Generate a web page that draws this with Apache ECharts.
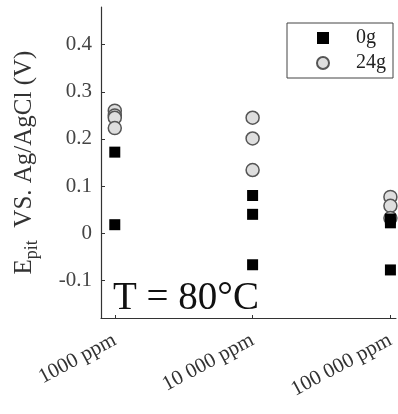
<!DOCTYPE html>
<html>
<head>
<meta charset="utf-8">
<script src="https://cdn.jsdelivr.net/npm/echarts@6/dist/echarts.min.js"></script>
<style>
  html, body { margin: 0; padding: 0; background: #fff; }
  #chart { width: 398px; height: 414px; }
</style>
</head>
<body>
<div id="chart"></div>
<script>
// concentration groups, placed at x = 1, 2, 3
const categories = ['1000 ppm', '10 000 ppm', '100 000 ppm'];
const yTicks = [-0.1, 0, 0.1, 0.2, 0.3, 0.4];

// E_pit values (V), one array per group
const g0_1000 = [0.172, 0.018];
const g0_10000 = [0.080, 0.040, -0.067];
const g0_100000 = [0.030, 0.022, -0.078];

const g24_1000 = [0.260, 0.250, 0.245, 0.223];
const g24_10000 = [0.245, 0.201, 0.134];
const g24_100000 = [0.077, 0.058, 0.032];

const toPoints = (groups) => {
  const out = [];
  groups.forEach((vals, i) => vals.forEach(v => out.push([i + 1, v])));
  return out;
};

const serif = 'Liberation Serif';
const axisColor = '#333';

const chart = echarts.init(document.getElementById('chart'), null, { renderer: 'canvas' });

chart.setOption({
  animation: false,
  grid: { left: 101, right: 0, top: 7, bottom: 96, containLabel: false },
  legend: {
    orient: 'vertical',
    left: 287,
    top: 23,
    padding: [5, 7, 5, 29],
    itemGap: 5,
    itemWidth: 12,
    itemHeight: 12,
    borderColor: '#444',
    borderWidth: 1,
    textStyle: { fontFamily: serif, fontSize: 20, color: '#222', padding: [0, 0, 0, 22] },
    data: [
      { name: '0g', icon: 'rect' },
      { name: '24g', icon: 'circle' }
    ]
  },
  xAxis: {
    type: 'value',
    min: 0.9,
    max: 3.04,
    splitLine: { show: false },
    axisLine: { onZero: false, lineStyle: { color: axisColor, width: 1.2 } },
    axisTick: { inside: true, length: 3, lineStyle: { color: axisColor }, customValues: [1, 2, 3] },
    axisLabel: {
      customValues: [1, 2, 3],
      rotate: 28,
      margin: 21,
      fontFamily: serif,
      fontSize: 21,
      color: '#333',
      formatter: (v) => categories[Math.round(v) - 1] || ''
    }
  },
  yAxis: {
    type: 'value',
    min: -0.18,
    max: 0.48,
    splitLine: { show: false },
    axisLine: { show: true, lineStyle: { color: axisColor, width: 1.2 } },
    axisTick: { inside: true, length: 4, lineStyle: { color: axisColor }, customValues: yTicks },
    axisLabel: {
      customValues: yTicks,
      margin: 9,
      fontFamily: serif,
      fontSize: 21,
      color: '#444',
      formatter: (v) => String(Math.round(v * 10) / 10)
    },
    name: '{e|E}{sub|pit}{n|  VS. Ag/AgCl (V)}',
    nameLocation: 'middle',
    nameGap: 60,
    nameRotate: 90,
    nameTextStyle: {
      rich: {
        e: { fontFamily: serif, fontSize: 25, color: '#333' },
        sub: { fontFamily: serif, fontSize: 18, color: '#333', padding: [15, 0, 0, 0] },
        n: { fontFamily: serif, fontSize: 25, color: '#333' }
      }
    }
  },
  graphic: [
    {
      type: 'text',
      left: 113,
      top: 279,
      style: { text: 'T = 80°C', fontFamily: serif, fontSize: 39, fill: '#111' }
    }
  ],
  series: [
    {
      name: '24g',
      type: 'scatter',
      symbol: 'circle',
      symbolSize: 13,
      itemStyle: { color: '#dedede', borderColor: '#555', borderWidth: 1.5, opacity: 1 },
      data: toPoints([g24_1000, g24_10000, g24_100000])
    },
    {
      name: '0g',
      type: 'scatter',
      symbol: 'rect',
      symbolSize: 11,
      itemStyle: { color: '#000', opacity: 1 },
      data: toPoints([g0_1000, g0_10000, g0_100000])
    }
  ]
});
</script>
</body>
</html>
